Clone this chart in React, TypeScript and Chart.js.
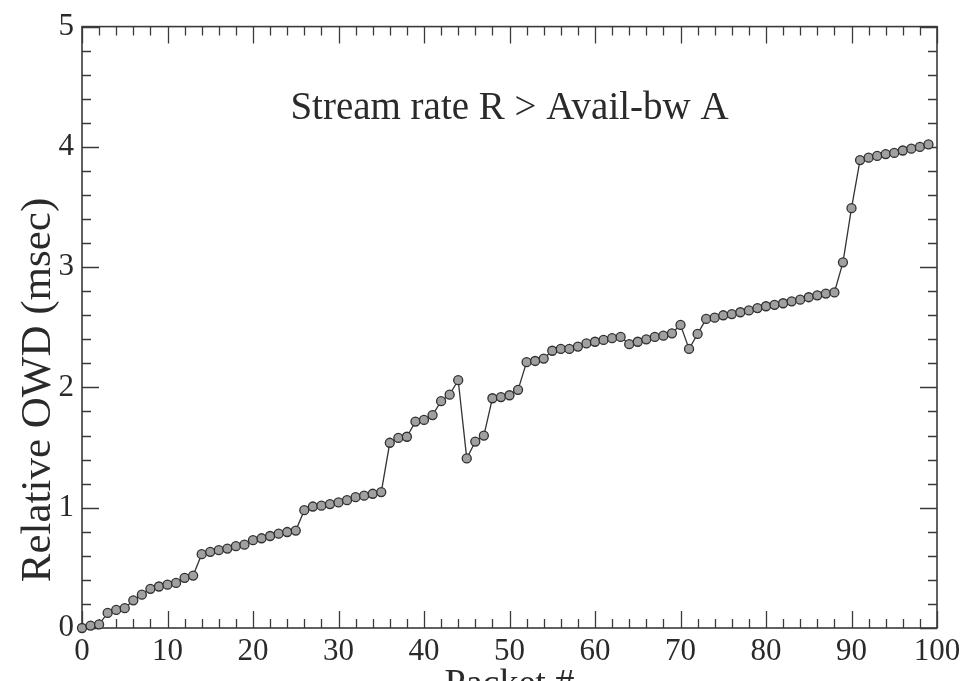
import React, { useEffect, useRef } from "react";
import { Chart, registerables } from "chart.js";

Chart.register(...registerables);

// Relative one-way delay (msec) for packets 0..99
const OWD_MSEC: number[] = [
  0.0, 0.02, 0.03, 0.125, 0.15, 0.165, 0.23, 0.277, 0.326, 0.345,
  0.36, 0.375, 0.417, 0.436, 0.614, 0.633, 0.647, 0.66, 0.68, 0.693,
  0.73, 0.746, 0.765, 0.784, 0.798, 0.81, 0.98, 1.01, 1.017, 1.03,
  1.044, 1.063, 1.088, 1.1, 1.116, 1.13, 1.54, 1.58, 1.59, 1.716,
  1.73, 1.77, 1.886, 1.94, 2.06, 1.41, 1.55, 1.6, 1.91, 1.92,
  1.935, 1.98, 2.21, 2.22, 2.24, 2.305, 2.32, 2.32, 2.34, 2.366,
  2.38, 2.395, 2.41, 2.42, 2.36, 2.38, 2.4, 2.42, 2.43, 2.45,
  2.52, 2.32, 2.445, 2.57, 2.58, 2.6, 2.61, 2.625, 2.64, 2.66,
  2.675, 2.687, 2.7, 2.716, 2.73, 2.75, 2.766, 2.78, 2.79, 3.04,
  3.49, 3.89, 3.91, 3.925, 3.94, 3.95, 3.97, 3.985, 4.0, 4.02,
];
const PACKET_NUMBERS: number[] = OWD_MSEC.map((_, i) => i);

const X_TICK_LABELS: number[] = [0, 10, 20, 30, 40, 50, 60, 70, 80, 90, 100];
const Y_TICK_LABELS: number[] = [0, 1, 2, 3, 4, 5];

const ANNOTATION_TEXT = "Stream rate R > Avail-bw A";
const X_TITLE = "Packet #";
const Y_TITLE = "Relative OWD (msec)";

const FONT = '"Liberation Serif", "Times New Roman", Times, serif';
const INK = "#2a2a2a";

export default function App() {
  const canvasRef = useRef<HTMLCanvasElement | null>(null);

  useEffect(() => {
    const canvas = canvasRef.current;
    if (!canvas) return;

    const frameTicks = {
      id: "frameTicks",
      beforeDatasetsDraw(chart: any) {
        const { ctx, chartArea: a, scales } = chart;
        const xs = scales.x;
        const ys = scales.y;
        ctx.save();
        ctx.strokeStyle = "#3a3a3a";
        ctx.lineWidth = 1.6;
        ctx.strokeRect(a.left, a.top, a.right - a.left, a.bottom - a.top);
        ctx.lineWidth = 1.3;
        ctx.beginPath();
        for (let k = 0; k <= 50; k++) {
          const v = k * 2;
          const len = v % 10 === 0 ? 17 : 9;
          const px = Math.round(xs.getPixelForValue(v)) + 0.5;
          ctx.moveTo(px, a.bottom);
          ctx.lineTo(px, a.bottom - len);
          ctx.moveTo(px, a.top);
          ctx.lineTo(px, a.top + len);
        }
        for (let k = 0; k <= 25; k++) {
          const v = k * 0.2;
          const len = k % 5 === 0 ? 17 : 9;
          const py = Math.round(ys.getPixelForValue(v)) + 0.5;
          ctx.moveTo(a.left, py);
          ctx.lineTo(a.left + len, py);
          ctx.moveTo(a.right, py);
          ctx.lineTo(a.right - len, py);
        }
        ctx.stroke();
        ctx.restore();
      },
      afterDraw(chart: any) {
        const { ctx, chartArea: a, scales } = chart;
        const xs = scales.x;
        const ys = scales.y;
        ctx.save();
        ctx.fillStyle = INK;
        // annotation
        ctx.font = `39px ${FONT}`;
        ctx.textAlign = "center";
        ctx.textBaseline = "middle";
        ctx.fillText(ANNOTATION_TEXT, xs.getPixelForValue(50), ys.getPixelForValue(4.32));
        // x title (partly cut at the bottom)
        ctx.font = `38px ${FONT}`;
        ctx.textBaseline = "alphabetic";
        ctx.fillText(X_TITLE, (a.left + a.right) / 2, a.bottom + 67);
        // y title
        ctx.font = `43px ${FONT}`;
        ctx.translate(39, 390);
        ctx.rotate(-Math.PI / 2);
        ctx.textBaseline = "middle";
        ctx.fillText(Y_TITLE, 0, 0);
        ctx.restore();
      },
    };

    const chart = new Chart(canvas, {
      type: "line",
      data: {
        datasets: [
          {
            data: PACKET_NUMBERS.map((p, i) => ({ x: p, y: OWD_MSEC[i] })),
            borderColor: "#333333",
            borderWidth: 1.3,
            pointRadius: 4.5,
            pointBackgroundColor: "#a0a0a0",
            pointBorderColor: "#303030",
            pointBorderWidth: 1.3,
            tension: 0,
            clip: false as any,
          },
        ],
      },
      options: {
        animation: false,
        responsive: true,
        maintainAspectRatio: false,
        layout: { padding: { left: 0, right: 32, top: 20, bottom: 0 } },
        plugins: {
          legend: { display: false },
          tooltip: { enabled: false },
          title: { display: false },
        },
        scales: {
          x: {
            type: "linear",
            min: 0,
            max: 100,
            afterBuildTicks(scale: any) {
              scale.ticks = X_TICK_LABELS.map((v) => ({ value: v }));
            },
            afterFit(scale: any) {
              scale.height = 53;
            },
            grid: { display: false, drawTicks: false },
            border: { display: false },
            ticks: {
              color: INK,
              padding: 5,
              maxRotation: 0,
              autoSkip: false,
              font: { family: FONT, size: 31 },
            },
          },
          y: {
            type: "linear",
            min: 0,
            max: 5,
            afterBuildTicks(scale: any) {
              scale.ticks = Y_TICK_LABELS.map((v) => ({ value: v }));
            },
            afterFit(scale: any) {
              scale.width = 82;
            },
            grid: { display: false, drawTicks: false },
            border: { display: false },
            ticks: {
              color: INK,
              padding: 8,
              autoSkip: false,
              font: { family: FONT, size: 31 },
            },
          },
        },
      },
      plugins: [frameTicks],
    } as any);

    return () => chart.destroy();
  }, []);

  return (
    <div
      style={{
        position: "absolute",
        left: 0,
        top: 0,
        width: 969,
        height: 681,
        background: "#ffffff",
        overflow: "hidden",
      }}
    >
      <canvas ref={canvasRef} />
    </div>
  );
}
